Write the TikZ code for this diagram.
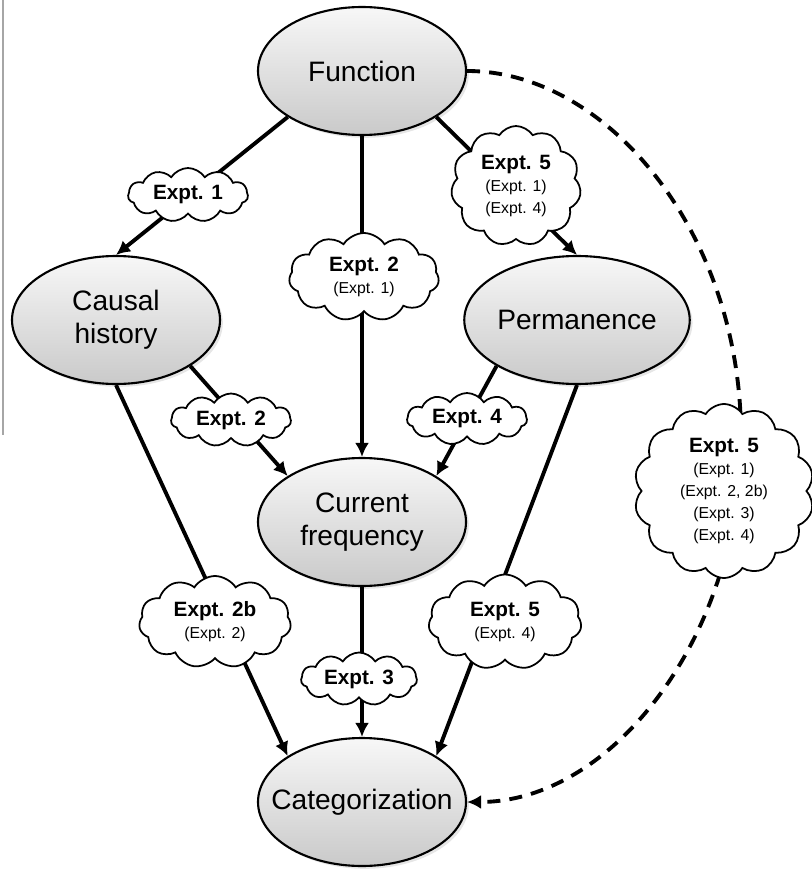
\documentclass[tikz,border=0pt]{standalone}
\usepackage{fontspec}
\setmainfont{Liberation Sans}
\usetikzlibrary{shapes.geometric,shapes.symbols,arrows.meta,shadows}

\tikzset{
  concept/.style={ellipse,draw,line width=0.6pt,top color=gray!6,bottom color=gray!42,
    drop shadow={opacity=0.2,shadow xshift=0.8pt,shadow yshift=-0.8pt},
    minimum width=2.08cm,minimum height=1.28cm,inner sep=0pt,align=center,
    font=\fontsize{8}{9.3}\selectfont},
  expt/.style={cloud,draw,fill=white,line width=0.5pt,cloud puffs=11,cloud puff arc=115,
    cloud ignores aspect,inner sep=0pt,align=center,font=\fontsize{4.5}{6.3}\selectfont},
  link/.style={line width=1.1pt,-{Latex[length=4pt,width=4pt]}},
  maybe/.style={link,dash pattern=on 3.7pt off 2.6pt},
}
\newcommand{\ex}[1]{\textbf{\fontsize{5.9}{6.3}\selectfont #1}}

\begin{document}
\begin{tikzpicture}
  \useasboundingbox (0,0) rectangle (8.11,-8.69);

  % Rand links
  \draw[gray!70,line width=0.6pt] (0.03,0) -- (0.03,-4.35);

  % Konzepte
  \node[concept] (fun) at (3.62,-0.71) {Function};
  \node[concept] (cau) at (1.16,-3.20) {Causal\\history};
  \node[concept] (per) at (5.77,-3.20) {Permanence};
  \node[concept] (cur) at (3.62,-5.22) {Current\\frequency};
  \node[concept,inner xsep=-0.18cm] (cat) at (3.62,-8.02) {Categorization};

  % Pfeile
  \draw[link] (fun.south west) -- (cau.north);
  \draw[link] (fun.south) -- (cur.north);
  \draw[link] (fun.south east) -- (per.north);
  \draw[link] (cau.south east) -- (cur.north west);
  \draw[link] (per.south west) -- (cur.north east);
  \draw[link] (cau.south) -- (cat.north west);
  \draw[link] (cur.south) -- (cat.north);
  \draw[link] (per.south) -- (cat.north east);
  \draw[maybe] (fun.east) .. controls (6.08,-0.71) and (7.41,-2.34) .. (7.41,-4.36)
    .. controls (7.41,-6.37) and (6.12,-8.02) .. (cat.east);

  % Experimente
  \node[expt,minimum width=1.20cm,minimum height=0.54cm] (e1) at (1.88,-1.95) {\ex{Expt. 1}};
  \node[expt,minimum width=1.50cm,minimum height=0.88cm] (e2) at (3.64,-2.77) {\ex{Expt. 2}\\(Expt. 1)};
  \node[expt,minimum width=1.30cm,minimum height=1.20cm] (e3) at (5.16,-1.86) {\ex{Expt. 5}\\(Expt. 1)\\(Expt. 4)};
  \node[expt,minimum width=1.20cm,minimum height=0.53cm] (e4) at (2.31,-4.20) {\ex{Expt. 2}};
  \node[expt,minimum width=1.20cm,minimum height=0.52cm] (e5) at (4.67,-4.19) {\ex{Expt. 4}};
  \node[expt,cloud puffs=14,minimum width=1.80cm,minimum height=1.74cm] (e6) at (7.24,-4.91)
    {\ex{Expt. 5}\\(Expt. 1)\\(Expt. 2, 2b)\\(Expt. 3)\\(Expt. 4)};
  \node[expt,minimum width=1.52cm,minimum height=0.92cm] (e7) at (2.15,-6.22) {\ex{Expt. 2b}\\(Expt. 2)};
  \node[expt,minimum width=1.16cm,minimum height=0.53cm] (e8) at (3.59,-6.79) {\ex{Expt. 3}};
  \node[expt,minimum width=1.53cm,minimum height=0.95cm] (e9) at (5.05,-6.22) {\ex{Expt. 5}\\(Expt. 4)};
\end{tikzpicture}
\end{document}
